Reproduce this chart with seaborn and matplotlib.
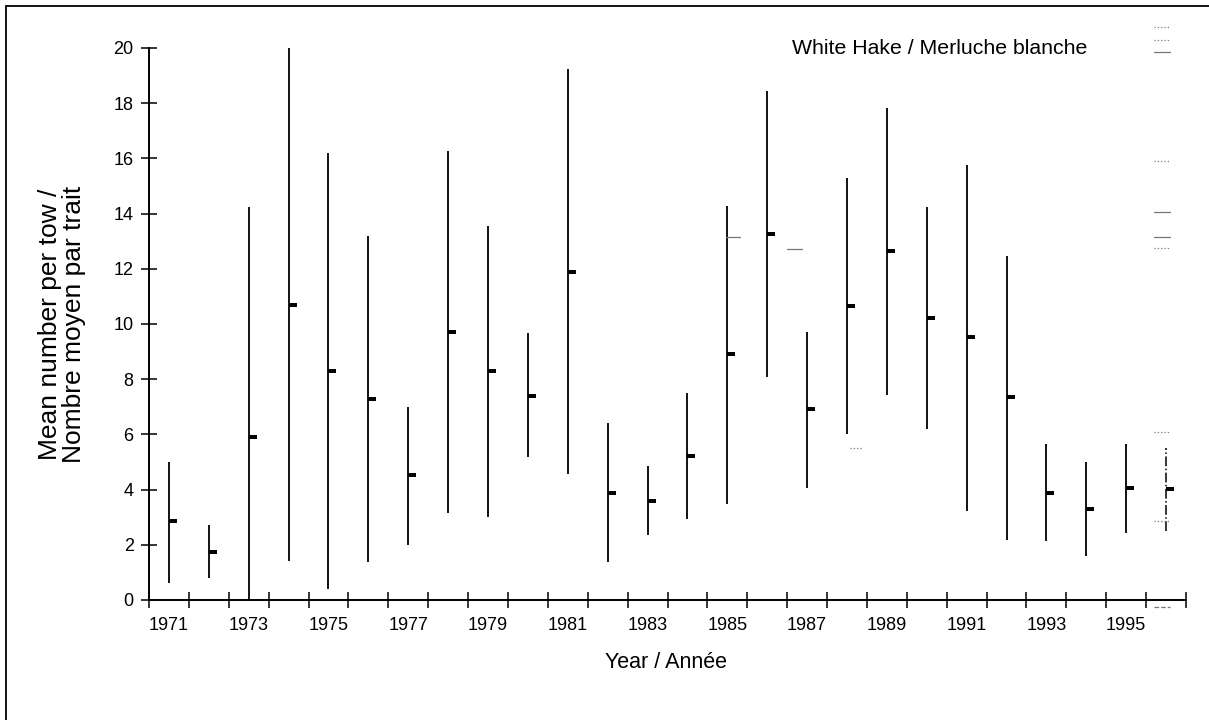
import numpy as np
import pandas as pd
import matplotlib
matplotlib.use("Agg")
import matplotlib.pyplot as plt
from matplotlib.path import Path
from matplotlib.patches import Rectangle
import seaborn as sns

# Survey results: mean catch per tow with lower / upper confidence limits
years = list(range(1971, 1997))
mean_catch = [2.85, 1.75, 5.9, 10.7, 8.3, 7.3, 4.52, 9.72, 8.3, 7.39,
              11.9, 3.89, 3.6, 5.21, 8.91, 13.27, 6.91, 10.65, 12.65, 10.22,
              9.52, 7.35, 3.89, 3.31, 4.06, 4.01]
lower_ci = [0.6, 0.8, 0.0, 1.43, 0.4, 1.38, 2.0, 3.15, 3.0, 5.17,
            4.55, 1.36, 2.36, 2.95, 3.49, 8.08, 4.04, 6.0, 7.43, 6.18,
            3.21, 2.18, 2.12, 1.6, 2.44, 2.5]
upper_ci = [5.0, 2.7, 14.25, 20.0, 16.2, 13.2, 7.0, 16.27, 13.56, 9.67,
            19.25, 6.43, 4.87, 7.49, 14.27, 18.43, 9.72, 15.3, 17.84, 14.24,
            15.76, 12.48, 5.64, 5.0, 5.67, 5.5]

# Faint reference ticks left on the plotting area
ref_years = [1985, 1987, 1988, 1996, 1996, 1996, 1996, 1996, 1996, 1996, 1996, 1996, 1996]
ref_values = [13.15, 12.7, 5.5, 20.76, 20.3, 19.85, 15.9, 14.07, 13.16, 12.76, 6.07, 2.88, -0.25]
ref_styles = ["-", "-", ":", ":", ":", "-", ":", "-", "-", ":", ":", ":", "--"]

df = pd.DataFrame({"year": years, "mean": mean_catch, "low": lower_ci, "high": upper_ci})
df["pos"] = np.arange(len(df))

sns.set_theme(style="ticks")
plt.rcParams["font.family"] = ["Liberation Sans", "DejaVu Sans"]

W, H = 1209, 720
fig = plt.figure(figsize=(W / 100, H / 100), dpi=100)
ax = fig.add_axes([149 / W, 1 - 600 / H, (1186 - 149) / W, (600 - 48) / H])

# Confidence-interval bars
solid = df.iloc[:-1]
ax.vlines(solid["pos"], solid["low"], solid["high"], color="black", lw=1.3)
last = df.iloc[-1:]
ax.vlines(last["pos"], last["low"], last["high"], color="black", lw=1.1,
          linestyles="-.")

# Mean marker: small filled bar to the right of the interval line
bar = Path([(0, -0.2), (1, -0.2), (1, 0.2), (0, 0.2), (0, -0.2)],
           [Path.MOVETO, Path.LINETO, Path.LINETO, Path.LINETO, Path.CLOSEPOLY])
sns.scatterplot(data=df, x="pos", y="mean", marker=bar, s=135, color="black",
                linewidth=0, ax=ax, legend=False, zorder=3)

# Reference ticks
offsets = {1985: (-0.04, 0.31), 1987: (-0.51, -0.14), 1988: (0.07, 0.4), 1996: (-0.29, 0.09)}
for yr, val, ls in zip(ref_years, ref_values, ref_styles):
    p = years.index(yr)
    a, b = offsets[yr]
    ax.plot([p + a, p + b], [val, val], color="#777777", lw=0.9, ls=ls,
            clip_on=False)

ax.set_xlim(-0.5, len(years) - 0.5)
ax.set_ylim(0, 20)
sns.despine(ax=ax)
for s in ("left", "bottom"):
    ax.spines[s].set_linewidth(1.4)
    ax.spines[s].set_color("black")

# Category boundaries carry the crossing ticks; odd years are labelled
ax.set_xticks(np.arange(-0.5, len(years), 1))
ax.set_xticklabels([])
ax.set_xticks(df["pos"][::2], [str(y) for y in years[::2]], minor=True)
ax.tick_params(axis="x", which="major", direction="inout", length=12, width=1.1,
               color="black")
ax.tick_params(axis="x", which="minor", length=0, pad=12, labelsize=13,
               labelcolor="black")
ax.set_yticks(np.arange(0, 21, 2))
ax.tick_params(axis="y", direction="inout", length=12, width=1.1, color="black",
               pad=5, labelsize=13, labelcolor="black")

ax.set_xlabel("")
ax.set_ylabel("")
fig.text(666 / W, 1 - 662 / H, "Year / Année", ha="center", va="center",
         fontsize=15.5, color="black")
fig.text(62 / W, 1 - 324 / H, "Mean number per tow /\nNombre moyen par trait",
         rotation=90, ha="center", va="center", fontsize=19, color="black",
         linespacing=1.0)
fig.text(1087 / W, 1 - 48 / H, "White Hake / Merluche blanche", ha="right",
         va="center", fontsize=15.3, color="black")

# Page frame
fig.patches.append(Rectangle((6 / W, -0.1), 1.2, 1.1 - 6 / H, fill=False,
                             lw=1.3, edgecolor="black", transform=fig.transFigure))

fig.savefig("out.png", dpi=100, facecolor="white")
